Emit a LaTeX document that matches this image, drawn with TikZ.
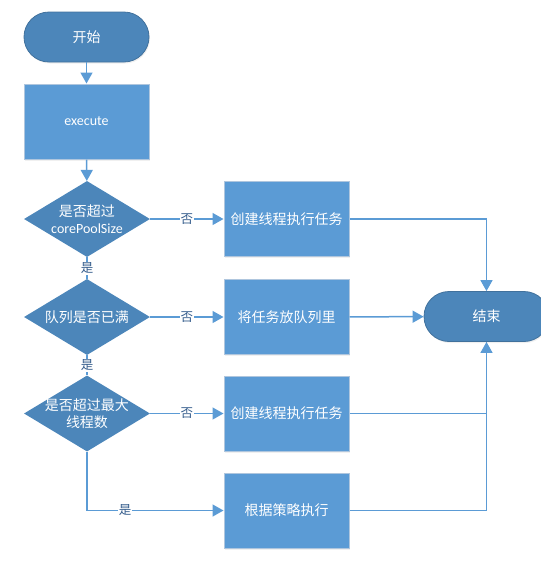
\documentclass[tikz,border=0pt]{standalone}
\usepackage{fontspec}
\setmainfont{Carlito}
\newfontfamily\cjk{Noto Sans CJK SC}
\usetikzlibrary{shapes.geometric,arrows.meta,shadows}
\definecolor{darkfill}{RGB}{76,134,186}
\definecolor{darkedge}{RGB}{65,113,156}
\definecolor{lightfill}{RGB}{91,155,213}
\definecolor{lightedge}{RGB}{175,198,222}
\definecolor{linec}{RGB}{91,155,213}
\definecolor{labc}{RGB}{52,92,140}
\tikzset{
  base/.style={font=\cjk\fontsize{14}{17}\selectfont, text=white, align=center, inner sep=0pt},
  term/.style={base, fill=darkfill, draw=darkedge, line width=0.8pt, minimum width=125pt, minimum height=50pt, rounded corners=25pt,
    drop shadow={opacity=0.12, shadow xshift=1pt, shadow yshift=-1.5pt}},
  stepbox/.style={base, fill=lightfill, draw=lightedge, line width=1pt, minimum width=125pt, minimum height=75pt,
    drop shadow={opacity=0.12, shadow xshift=1pt, shadow yshift=-1.5pt}},
  dia/.style={diamond, fill=darkfill, draw=none, minimum width=126pt, minimum height=76pt, inner sep=0pt},
  dtext/.style={base},
  conn/.style={draw=linec, line width=1.5pt},
  arr/.style={conn, -{Triangle[length=11pt,width=12pt]}},
  lab/.style={fill=white, text=labc, font=\cjk\fontsize{12.5}{14}\selectfont, inner sep=1pt},
}
\begin{document}
\begin{tikzpicture}[x=1pt,y=-1pt]
\useasboundingbox (0,0) rectangle (541,566);
\node[term] (start) at (86.5,37) {开始};
\node[stepbox, font=\fontsize{14}{17}\selectfont] (exec) at (86.5,121.5) {execute};
\node[dia] (d1) at (87,219) {};
\node[dtext] (d1t) at (d1) {是否超过\\{\fontspec{Carlito}corePoolSize}};
\node[stepbox] (r1) at (286.5,219) {创建线程执行任务};
\node[dia] (d2) at (87,317) {};
\node[dtext] (d2t) at (d2) {队列是否已满};
\node[stepbox] (r2) at (286.5,317) {将任务放队列里};
\node[dia] (d3) at (87,413.5) {};
\node[dtext] (d3t) at (d3) {是否超过最大\\线程数};
\node[stepbox] (r3) at (286.5,413.5) {创建线程执行任务};
\node[stepbox] (r4) at (286.5,510.5) {根据策略执行};
\node[term] (end) at (486.5,316.5) {结束};

\draw[arr] (start) -- (exec);
\draw[arr] (exec) -- (d1);
\draw[arr] (d1) -- node[lab]{否} (r1);
\draw[conn] (d1) -- node[lab]{是} (d2);
\draw[arr] (d2) -- node[lab]{否} (r2);
\draw[conn] (d2) -- node[lab]{是} (d3);
\draw[arr] (d3) -- node[lab]{否} (r3);
\draw[arr] (d3.south) |- node[lab, pos=0.64]{是} (r4);
\draw[arr] (r1) -| (end.north);
\draw[arr] (r2) -- (end);
\draw[arr] (r3) -| (end.south);
\draw[conn] (r4) -| (end.south);
\end{tikzpicture}
\end{document}
